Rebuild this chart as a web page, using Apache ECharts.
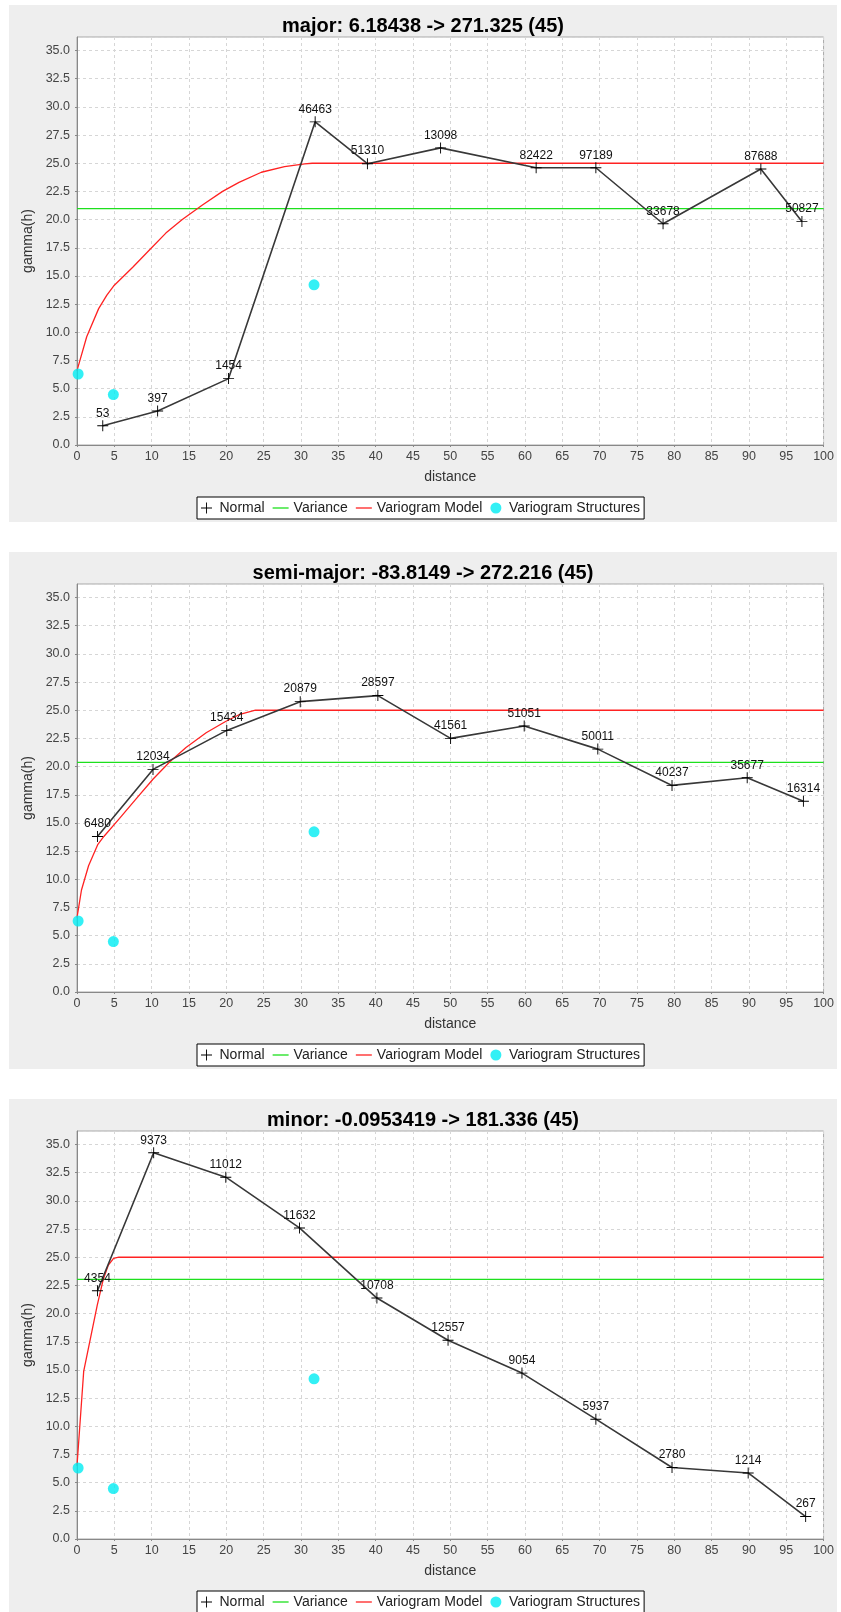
<!DOCTYPE html>
<html>
<head>
<meta charset="utf-8">
<script src="https://cdn.jsdelivr.net/npm/echarts@6/dist/echarts.min.js"></script>
<style>
  body { margin: 0; background: #fff; width: 841px; height: 1612px; overflow: hidden; position: relative; }
  .panel { position: absolute; left: 9px; width: 828px; height: 517px; background: #eeeeee; }
</style>
</head>
<body>
<div class="panel" id="c1" style="top:5px"></div>
<div class="panel" id="c2" style="top:552px"></div>
<div class="panel" id="c3" style="top:1099px"></div>
<script>
// major direction
var majorDist  = [3.45, 10.8, 20.3, 31.9, 38.9, 48.7, 61.5, 69.5, 78.5, 91.6, 97.1];
var majorGamma = [1.71, 3.02, 5.89, 28.67, 24.96, 26.36, 24.6, 24.6, 19.63, 24.49, 19.84];
var majorPairs = [53, 397, 1454, 46463, 51310, 13098, 82422, 97189, 33678, 87688, 50827];
var majorVariance = 20.97;
var majorModelDist  = [0, 1.3, 2.9, 4.0, 4.9, 7.5, 9.7, 11.9, 14.1, 16.8, 19.5, 21.7, 24.7, 27.8, 30.5, 31.5, 100];
var majorModelGamma = [6.6, 9.6, 12.1, 13.3, 14.1, 15.8, 17.3, 18.8, 20.0, 21.3, 22.5, 23.3, 24.2, 24.7, 24.95, 25.0, 25.0];

// semi-major direction
var semiDist  = [2.74, 10.18, 20.06, 29.9, 40.3, 50.04, 59.9, 69.76, 79.7, 89.77, 97.3];
var semiGamma = [13.8, 19.75, 23.21, 25.76, 26.3, 22.5, 23.6, 21.55, 18.33, 19.01, 16.93];
var semiPairs = [6480, 12034, 15434, 20879, 28597, 41561, 51051, 50011, 40237, 35677, 16314];
var semiVariance = 20.37;
var semiModelDist  = [0, 0.6, 1.55, 2.8, 3.6, 5.7, 8.0, 10.2, 12.4, 14.6, 17.3, 19.9, 21.7, 23.9, 100];
var semiModelGamma = [6.6, 9.05, 11.2, 13.1, 13.8, 15.4, 17.2, 18.9, 20.4, 21.7, 23.0, 24.0, 24.6, 25.0, 25.0];

// minor direction
var minorDist  = [2.74, 10.27, 19.93, 29.8, 40.17, 49.7, 59.6, 69.5, 79.7, 89.9, 97.6];
var minorGamma = [22.03, 34.27, 32.1, 27.6, 21.38, 17.63, 14.72, 10.63, 6.34, 5.86, 1.99];
var minorPairs = [4354, 9373, 11012, 11632, 10708, 12557, 9054, 5937, 2780, 1214, 267];
var minorVariance = 23.04;
var minorModelDist  = [0, 0.9, 1.8, 2.7, 3.5, 4.2, 4.9, 5.6, 100];
var minorModelGamma = [6.5, 14.9, 17.8, 20.7, 23.0, 24.3, 24.9, 25.0, 25.0];

// variogram structures (same in all three)
var structDist  = [0.15, 4.87, 31.75];
var structGamma = [6.3, 4.47, 14.21];

var xTicks = { min: 0, max: 100, step: 5 };
var yTicks = { min: 0, max: 36.2, step: 2.5 };

var FONT = "'Liberation Sans', Arial, sans-serif";
var PLUS = 'path://M5.5,0h1v12h-1z M0,5.5h12v1h-12z';
var DASH = 'path://M0,0h16v1.3h-16z';

function zip(a, b, c) {
  return a.map(function (v, i) { return c ? [v, b[i], c[i]] : [v, b[i]]; });
}

function makeChart(id, title, dist, gamma, pairs, variance, mDist, mGamma) {
  var chart = echarts.init(document.getElementById(id));
  var option = {
    animation: false,
    backgroundColor: 'transparent',
    title: {
      text: title,
      left: 'center',
      top: 6,
      textStyle: { fontFamily: FONT, fontWeight: 'bold', fontSize: 20, color: '#000' }
    },
    grid: {
      left: 68, top: 32, width: 752, height: 408,
      show: true, backgroundColor: '#fff', borderColor: '#a8a8a8', borderWidth: 1
    },
    legend: {
      left: 188, top: 492,
      padding: [4, 4, 4, 4],
      itemWidth: 16, itemHeight: 11, itemGap: 8,
      symbolKeepAspect: true,
      backgroundColor: '#fff', borderColor: '#000', borderWidth: 1, borderRadius: 0,
      textStyle: { fontFamily: FONT, fontSize: 14, color: '#222' },
      data: [
        { name: 'Normal', icon: PLUS },
        { name: 'Variance', icon: DASH },
        { name: 'Variogram Model', icon: DASH },
        { name: 'Variogram Structures', icon: 'circle' }
      ]
    },
    xAxis: {
      type: 'value',
      min: xTicks.min, max: xTicks.max, interval: xTicks.step,
      name: 'distance', nameLocation: 'middle', nameGap: 25,
      nameTextStyle: { fontFamily: FONT, fontSize: 14, color: '#333' },
      axisLine: { lineStyle: { color: '#888' } },
      axisTick: { show: true, length: 2, lineStyle: { color: '#888' } },
      axisLabel: { fontFamily: FONT, fontSize: 12.5, color: '#444', margin: 5 },
      splitLine: { show: true, lineStyle: { color: '#d6d6d6', type: [3, 3], width: 1 } }
    },
    yAxis: {
      type: 'value',
      min: yTicks.min, max: yTicks.max, interval: yTicks.step,
      name: 'gamma(h)', nameLocation: 'middle', nameGap: 38,
      nameTextStyle: { fontFamily: FONT, fontSize: 14, color: '#333' },
      axisLine: { show: true, lineStyle: { color: '#888' } },
      axisTick: { show: true, length: 2, lineStyle: { color: '#888' } },
      axisLabel: {
        fontFamily: FONT, fontSize: 12.5, color: '#444', margin: 7,
        showMaxLabel: false,
        formatter: function (v) {
          var k = v / yTicks.step;
          return Math.abs(k - Math.round(k)) < 1e-6 ? v.toFixed(1) : '';
        }
      },
      splitLine: { show: true, lineStyle: { color: '#d6d6d6', type: [3, 3], width: 1 } }
    },
    series: [
      {
        name: 'Normal',
        type: 'line',
        data: zip(dist, gamma, pairs),
        symbol: PLUS,
        symbolSize: 11,
        itemStyle: { color: '#000' },
        lineStyle: { color: '#383838', width: 1.6 },
        label: {
          show: true, position: 'top', distance: 1,
          fontFamily: FONT, fontSize: 12, color: '#111',
          formatter: function (p) { return p.value[2]; }
        },
        z: 4
      },
      {
        name: 'Variance',
        type: 'line',
        data: [[xTicks.min, variance], [xTicks.max, variance]],
        symbol: 'none',
        itemStyle: { color: '#1de01d' },
        lineStyle: { color: '#1de01d', width: 1.3 },
        z: 2
      },
      {
        name: 'Variogram Model',
        type: 'line',
        data: zip(mDist, mGamma),
        symbol: 'none',
        itemStyle: { color: '#ff2222' },
        lineStyle: { color: '#ff2222', width: 1.3 },
        z: 3
      },
      {
        name: 'Variogram Structures',
        type: 'scatter',
        data: zip(structDist, structGamma),
        symbol: 'circle',
        symbolSize: 11,
        itemStyle: { color: '#00ecf2' },
        z: 3
      }
    ]
  };
  chart.setOption(option);
  return chart;
}

makeChart('c1', 'major: 6.18438 -> 271.325 (45)', majorDist, majorGamma, majorPairs,
  majorVariance, majorModelDist, majorModelGamma);
makeChart('c2', 'semi-major: -83.8149 -> 272.216 (45)', semiDist, semiGamma, semiPairs,
  semiVariance, semiModelDist, semiModelGamma);
makeChart('c3', 'minor: -0.0953419 -> 181.336 (45)', minorDist, minorGamma, minorPairs,
  minorVariance, minorModelDist, minorModelGamma);
</script>
</body>
</html>
